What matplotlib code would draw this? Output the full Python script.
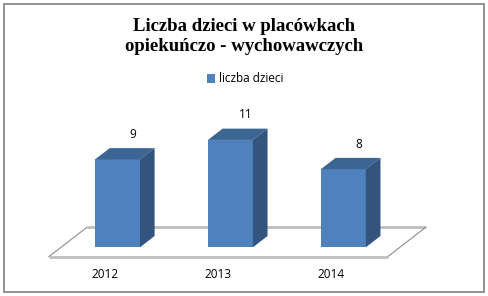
import matplotlib
matplotlib.use("Agg")
import matplotlib.pyplot as plt
from matplotlib.patches import Polygon, Rectangle, Patch

# ---- data ----
categories = ["2012", "2013", "2014"]
values = [9, 11, 8]
series_name = "liczba dzieci"
title = "Liczba dzieci w placówkach\nopiekuńczo - wychowawczych"

# ---- style / geometry (perspective in data units) ----
W, H = 489, 296
c_front = "#4F81BD"
c_top = "#3C6594"
c_side = "#32547E"
DX = 0.337      # floor depth, in category units
DY = 3.01       # floor depth, in value units
d0, d1 = 0.32, 0.705   # bar depth position (fraction of floor depth)
bw = 0.398      # bar front width (category units)

fig = plt.figure(figsize=(W / 100, H / 100), dpi=100)
ax = fig.add_axes([0, 0, 1, 1])
ax.set_xlim(-0.9325, 3.3976)
ax.set_ylim(-4.027, 26.30)
ax.axis("off")

n = len(categories)
# floor
ax.plot([-0.5 + DX, n - 0.5 + DX], [DY, DY], color="#BFBFBF", lw=2.0, zorder=1, solid_capstyle="butt")
ax.plot([-0.5, -0.5 + DX], [0, DY], color="#8C8C8C", lw=0.8, zorder=1)
ax.plot([n - 0.5, n - 0.5 + DX], [0, DY], color="#8C8C8C", lw=0.8, zorder=1)
ax.plot([-0.5, n - 0.5], [0, 0], color="#BFBFBF", lw=2.0, zorder=1, solid_capstyle="butt")

dd = d1 - d0
for i, (cat, v) in enumerate(zip(categories, values)):
    x0 = i - bw / 2 + d0 * DX
    y0 = d0 * DY
    ex, ey = dd * DX, dd * DY
    front = Polygon([(x0, y0), (x0 + bw, y0), (x0 + bw, y0 + v), (x0, y0 + v)],
                    closed=True, facecolor=c_front, edgecolor="none", zorder=3)
    top = Polygon([(x0, y0 + v), (x0 + bw, y0 + v), (x0 + bw + ex, y0 + v + ey), (x0 + ex, y0 + v + ey)],
                  closed=True, facecolor=c_top, edgecolor="none", zorder=3)
    side = Polygon([(x0 + bw, y0), (x0 + bw, y0 + v), (x0 + bw + ex, y0 + v + ey), (x0 + bw + ex, y0 + ey)],
                   closed=True, facecolor=c_side, edgecolor="none", zorder=3)
    for p in (front, top, side):
        ax.add_patch(p)
    # value label
    ax.annotate(str(v), (x0 + bw / 2 + ex / 2 + 0.07, y0 + v + ey), xytext=(0, 10),
                textcoords="offset points", ha="center", va="center",
                fontsize=8.5, family="Open Sans", color="#000000")
    # category label
    ax.annotate(cat, (i, 0), xytext=(0, -12.5), textcoords="offset points",
                ha="center", va="center", fontsize=8.5, family="Open Sans", color="#000000")

# title
fig.text(244 / W, 1 - 36.5 / H, title, ha="center", va="center",
         fontsize=13.5, fontweight="bold", family="Liberation Serif", linespacing=1.24)

# legend
leg = fig.legend(handles=[Patch(facecolor=c_front, edgecolor="none")], labels=[series_name],
                 loc="center", bbox_to_anchor=(245 / W, 1 - 79 / H), frameon=False,
                 prop={"family": "Open Sans", "size": 8.5}, handlelength=0.7, handleheight=0.7,
                 handletextpad=0.3, borderpad=0)

# outer border
fig.add_artist(Rectangle((4 / W, 4 / H), 480 / W, 288 / H, transform=fig.transFigure,
                         fill=False, edgecolor="#808080", lw=1.2))

fig.savefig("out.png", dpi=100)
